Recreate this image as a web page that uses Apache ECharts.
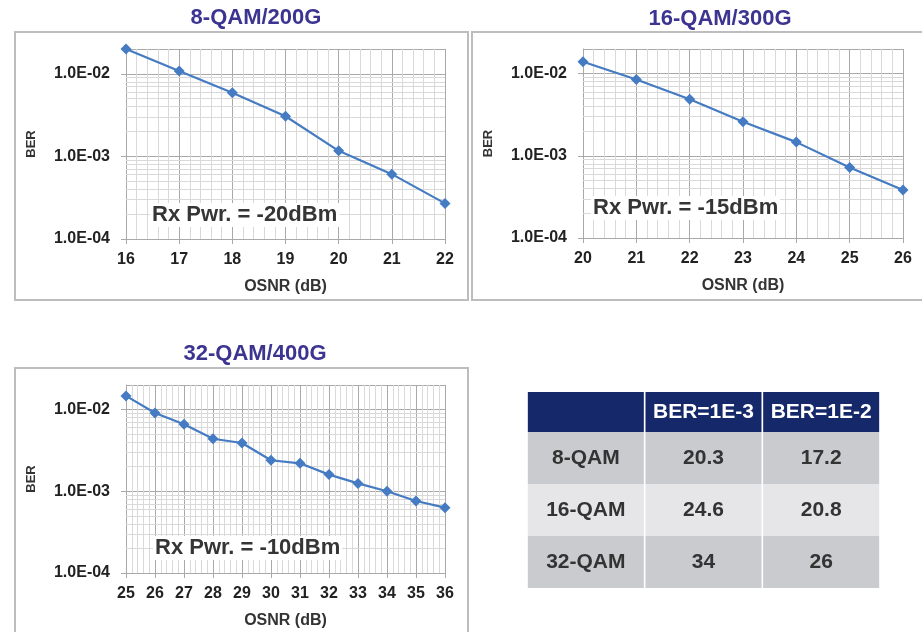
<!DOCTYPE html>
<html><head><meta charset="utf-8">
<script src="https://cdn.jsdelivr.net/npm/echarts@6/dist/echarts.min.js"></script>
<style>html,body{margin:0;padding:0;background:#fff}#c{width:922px;height:632px}</style>
</head><body><div id="c"></div>
<script>
// ---- data ----
const osnr8 = [16, 17, 18, 19, 20, 21, 22];
const ber8 = [2.0e-2, 1.08e-2, 5.9e-3, 3.07e-3, 1.17e-3, 6.1e-4, 2.7e-4];
const osnr16 = [20, 21, 22, 23, 24, 25, 26];
const ber16 = [1.4e-2, 8.5e-3, 4.9e-3, 2.6e-3, 1.47e-3, 7.2e-4, 3.85e-4];
const osnr32 = [25, 26, 27, 28, 29, 30, 31, 32, 33, 34, 35, 36];
const ber32 = [1.47e-2, 9.1e-3, 6.6e-3, 4.4e-3, 3.9e-3, 2.4e-3, 2.2e-3, 1.6e-3, 1.25e-3, 1.0e-3, 7.6e-4, 6.3e-4];
const chartTitles = ['8-QAM/200G', '16-QAM/300G', '32-QAM/400G'];
const rxPower = ['Rx Pwr. = -20dBm', 'Rx Pwr. = -15dBm', 'Rx Pwr. = -10dBm'];
const berTickLabels = ['1.0E-04', '1.0E-03', '1.0E-02'];
const tableHeader = [' ', 'BER=1E-3', 'BER=1E-2'];
const tableRows = ['8-QAM', '16-QAM', '32-QAM'];
const osnrAt1e3 = ['20.3', '24.6', '34'];
const osnrAt1e2 = ['17.2', '20.8', '26'];

// ---- layout / styles ----
const FF = '"Liberation Sans", Arial, sans-serif';
const LINE = '#447bc2';
const MAJOR = '#a9a9a9';
const MINOR = '#d9d9d9';
const panels = [
  {xs: osnr8, ys: ber8, xmin: 16, xmax: 22, grid: {left: 126, top: 49, width: 319, height: 190},
   title: [256, 18], rx: [150, 215], frame: [15, 32, 453, 268]},
  {xs: osnr16, ys: ber16, xmin: 20, xmax: 26, grid: {left: 583, top: 49, width: 320, height: 189},
   title: [720, 19], rx: [591, 208], frame: [472, 32, 470, 268]},
  {xs: osnr32, ys: ber32, xmin: 25, xmax: 36, grid: {left: 126, top: 385, width: 319, height: 188},
   title: [255, 354], rx: [153, 548], frame: [15, 368, 453, 290]}
];

// log minor grid positions (2..9 of each decade)
const minorBer = [];
for (let e = -4; e <= -3; e++) for (let k = 2; k <= 9; k++) minorBer.push(+(k * Math.pow(10, e)).toPrecision(3));

const grids = [], xAxes = [], yAxes = [], series = [], graphics = [];
panels.forEach((p, i) => {
  grids.push(p.grid);
  xAxes.push({
    gridIndex: i, type: 'value', min: p.xmin, max: p.xmax, interval: 1,
    name: 'OSNR (dB)', nameLocation: 'middle', nameGap: 40,
    nameTextStyle: {fontWeight: 'bold', fontSize: 16, color: '#333', fontFamily: FF},
    axisLine: {show: true, onZero: false, lineStyle: {color: MAJOR, width: 1}},
    axisTick: {show: true, length: 5, lineStyle: {color: MAJOR}},
    axisLabel: {fontWeight: 'bold', fontSize: 16, color: '#222', margin: 13, fontFamily: FF},
    splitLine: {show: true, lineStyle: {color: MAJOR, width: 1}},
    minorTick: {show: false, splitNumber: 5},
    minorSplitLine: {show: true, lineStyle: {color: MINOR, width: 1}}
  });
  yAxes.push({
    gridIndex: i, type: 'log', logBase: 10, min: 1e-4, max: 0.02,
    name: 'BER', nameLocation: 'middle', nameGap: 88,
    nameTextStyle: {fontWeight: 'bold', fontSize: 13, color: '#333', fontFamily: FF},
    axisLine: {show: true, lineStyle: {color: MAJOR, width: 1}},
    axisTick: {show: true, length: 5, lineStyle: {color: MAJOR}},
    axisLabel: {
      fontWeight: 'bold', fontSize: 16, color: '#222', margin: 16, fontFamily: FF,
      showMaxLabel: false,
      formatter: v => berTickLabels[Math.round(Math.log10(v)) + 4] || ''
    },
    splitLine: {show: true, lineStyle: {color: MAJOR, width: 1}}
  });
  const pts = p.xs.map((x, j) => [x, p.ys[j]]);
  series.push({
    type: 'line', xAxisIndex: i, yAxisIndex: i, z: 1, silent: true,
    data: pts, showSymbol: false, symbol: 'none', lineStyle: {width: 0, opacity: 0},
    markLine: {
      silent: true, z: 1, precision: 10, symbol: ['none', 'none'], label: {show: false},
      lineStyle: {color: MINOR, type: 'solid', width: 1, opacity: 1},
      emphasis: {disabled: true},
      data: minorBer.map(v => ({yAxis: v}))
    }
  });
  series.push({
    type: 'line', xAxisIndex: i, yAxisIndex: i, z: 10,
    data: pts, symbol: 'diamond', symbolSize: 11, showSymbol: true,
    itemStyle: {color: LINE}, lineStyle: {color: LINE, width: 2.2}
  });
  graphics.push({
    type: 'rect', z: 0, silent: true,
    shape: {x: p.frame[0], y: p.frame[1], width: p.frame[2], height: p.frame[3]},
    style: {fill: 'none', stroke: '#bdbdbd', lineWidth: 2}
  });
  graphics.push({
    type: 'text', z: 20, x: p.title[0], y: p.title[1],
    style: {text: chartTitles[i], font: 'bold 22px ' + FF, fill: '#3b3490',
            align: 'center', verticalAlign: 'middle', textAlign: 'center', textVerticalAlign: 'middle'}
  });
  graphics.push({
    type: 'text', z: 20, x: p.rx[0], y: p.rx[1],
    style: {text: rxPower[i], font: 'bold 22px ' + FF, fill: '#353535',
            backgroundColor: '#fff', padding: [1, 2],
            align: 'left', verticalAlign: 'middle', textAlign: 'left', textVerticalAlign: 'middle'}
  });
});

// ---- table ----
const ti = panels.length;
grids.push({left: 527, top: 432, width: 353, height: 156});
xAxes.push({
  gridIndex: ti, type: 'category', data: tableHeader, position: 'top',
  axisLine: {show: false}, axisTick: {show: false}, splitLine: {show: false},
  axisLabel: {
    show: true, interval: 0, margin: 0, color: '#fff', fontWeight: 'bold', fontSize: 21, fontFamily: FF,
    backgroundColor: '#14286a', width: 116, height: 40, lineHeight: 40, align: 'center'
  }
});
yAxes.push({gridIndex: ti, type: 'category', data: tableRows, inverse: true, show: false});
const cellText = [], cellPos = [];
tableRows.forEach((r, ri) => {
  [r, osnrAt1e3[ri], osnrAt1e2[ri]].forEach((t, ci) => { cellPos.push([ci, ri]); cellText.push(t); });
});
series.push({
  type: 'custom', xAxisIndex: ti, yAxisIndex: ti, silent: true,
  data: cellPos,
  renderItem: (params, api) => {
    const c = api.coord([api.value(0), api.value(1)]);
    const s = api.size([1, 1]);
    const row = api.value(1);
    return {type: 'group', children: [
      {type: 'rect', shape: {x: c[0] - s[0] / 2 + 0.8, y: c[1] - s[1] / 2, width: s[0] - 1.6, height: s[1]},
       style: {fill: row % 2 ? '#e6e6e8' : '#cacbce'}},
      {type: 'text', x: c[0], y: c[1],
       style: {text: cellText[params.dataIndex], font: 'bold 21px ' + FF, fill: '#333',
               align: 'center', verticalAlign: 'middle'}}
    ]};
  }
});

const chart = echarts.init(document.getElementById('c'));
chart.setOption({
  animation: false,
  backgroundColor: '#fff',
  grid: grids, xAxis: xAxes, yAxis: yAxes, series: series,
  graphic: graphics
});
</script>
</body></html>
